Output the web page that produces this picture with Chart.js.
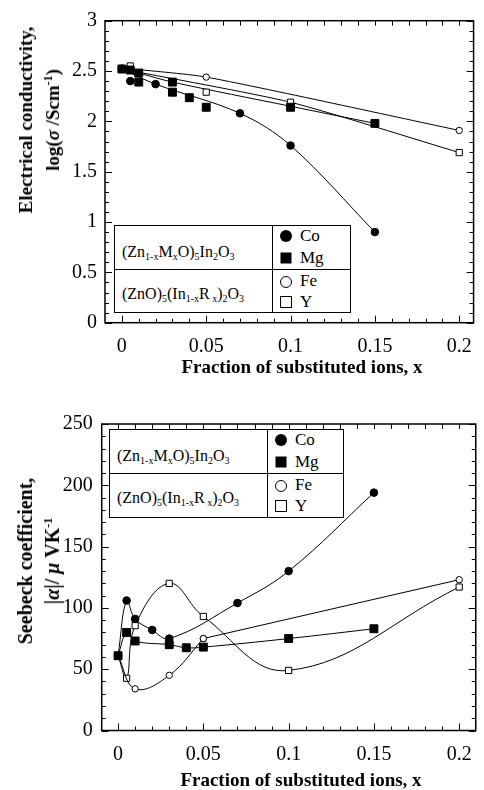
<!DOCTYPE html>
<html>
<head>
<meta charset="utf-8">
<script src="https://cdn.jsdelivr.net/npm/chart.js@4.4.1/dist/chart.umd.min.js"></script>
<style>
  html, body { margin: 0; padding: 0; background: #fff; }
  body { width: 484px; height: 790px; position: relative; overflow: hidden;
         font-family: "Liberation Serif", "Times New Roman", serif; color: #000; }
  .pane { position: absolute; left: 0; width: 484px; }
  #paneTop { top: 0; height: 400px; }
  #paneBot { top: 400px; height: 390px; }
  .ytitle { position: absolute; transform: translate(-50%, -50%) rotate(-90deg);
            white-space: nowrap; font-weight: bold; font-size: 19px; line-height: 27px; text-align: center; }
  .xtitle { position: absolute; transform: translate(-50%, -50%); white-space: nowrap;
            font-weight: bold; font-size: 19px; }
  .ytitle sup { font-size: 12px; vertical-align: 7px; line-height: 0; }
  .legend { position: absolute; border: 1.5px solid #000; background: #fff; box-sizing: border-box; }
  .legend .vline { position: absolute; top: 0; bottom: 0; border-left: 1.5px solid #000; }
  .legend .hline { position: absolute; left: 0; right: 0; border-top: 1.5px solid #000; }
  .legend .formula { position: absolute; font-size: 16px; white-space: nowrap; transform: translateY(-50%); }
  .legend .formula sub { font-size: 10px; vertical-align: -3px; line-height: 0; }
  .legend .item { position: absolute; font-size: 17px; white-space: nowrap; transform: translateY(-50%); }
  .mk { position: absolute; transform: translate(-50%, -50%); box-sizing: border-box; }
  .mk.fc { width: 12px; height: 12px; border-radius: 50%; background: #000; }
  .mk.fs { width: 11px; height: 11px; background: #000; }
  .mk.oc { width: 12px; height: 12px; border-radius: 50%; border: 1.2px solid #000; background: #fff; }
  .mk.os { width: 12px; height: 12px; border: 1.2px solid #000; background: #fff; }
</style>
</head>
<body>
<div class="pane" id="paneTop"><canvas id="chartTop"></canvas></div>
<div class="pane" id="paneBot"><canvas id="chartBot"></canvas></div>

<div class="ytitle" style="left:39px; top:120px;">Electrical conductivity,<br>log(<i>σ</i> /Scm<sup>-1</sup>)</div>
<div class="xtitle" style="left:302px; top:367px;">Fraction of substituted ions, x</div>
<div class="ytitle" style="left:39px; top:561px; font-size:20px;">Seebeck coefficient,<br>|<i>α</i>|/ <i>μ</i> VK<sup>-1</sup></div>
<div class="xtitle" style="left:301px; top:780px;">Fraction of substituted ions, x</div>

<script>
'use strict';

// ========================
// Data: conductivity (top)
// ========================
const xTicks = [0, 0.05, 0.1, 0.15, 0.2];
const sigmaTicks = [0, 0.5, 1, 1.5, 2, 2.5, 3];

const sigCoX = [0, 0.005, 0.02, 0.07, 0.1, 0.15];
const sigCoY = [2.52, 2.40, 2.37, 2.08, 1.76, 0.90];
const sigMgX = [0, 0.005, 0.01, 0.01, 0.03, 0.03, 0.04, 0.05, 0.1, 0.15];
const sigMgY = [2.52, 2.51, 2.48, 2.39, 2.39, 2.29, 2.235, 2.14, 2.14, 1.98];
const sigFeX = [0, 0.05, 0.2];
const sigFeY = [2.53, 2.44, 1.91];
const sigYX = [0, 0.005, 0.05, 0.1, 0.2];
const sigYY = [2.52, 2.55, 2.29, 2.19, 1.69];

// fitted guide curves drawn through the points
const fitCoX = [0, 0.02, 0.07, 0.1, 0.15];
const fitCoY = [2.52, 2.37, 2.08, 1.76, 0.90];
const fitMgX = [0, 0.01, 0.03, 0.1, 0.15];
const fitMgY = [2.52, 2.48, 2.39, 2.15, 1.98];
const fitFeX = [0, 0.05, 0.2];
const fitFeY = [2.53, 2.44, 1.91];
const fitYX = [0, 0.1, 0.2];
const fitYY = [2.52, 2.19, 1.69];

// ========================
// Data: Seebeck (bottom)
// ========================
const seebeckTicks = [0, 50, 100, 150, 200, 250];

const sbCoX = [0, 0.005, 0.01, 0.02, 0.03, 0.07, 0.1, 0.15];
const sbCoY = [61, 106, 91, 82, 75, 104, 130, 194];
const sbMgX = [0, 0.005, 0.01, 0.03, 0.04, 0.05, 0.1, 0.15];
const sbMgY = [61, 80, 73, 70, 67.5, 68, 75, 83];
const sbFeX = [0, 0.01, 0.03, 0.05, 0.2];
const sbFeY = [61, 34, 45, 75, 123];
const sbYX = [0, 0.005, 0.01, 0.03, 0.05, 0.1, 0.2];
const sbYY = [61, 42.6, 85.5, 120, 93, 49, 117];

// ========================
// Helpers
// ========================
const pts = (xs, ys) => xs.map((x, i) => ({ x, y: ys[i] }));

const STYLE = {
  Co: { pointStyle: 'circle', fill: '#000', r: 3.8 },
  Mg: { pointStyle: 'rect', fill: '#000', r: 5.6 },
  Fe: { pointStyle: 'circle', fill: '#fff', r: 3.2 },
  Y:  { pointStyle: 'rect', fill: '#fff', r: 4.4 }
};

function markers(label, xs, ys, key) {
  const s = STYLE[key];
  return {
    label, data: pts(xs, ys), showLine: false,
    pointStyle: s.pointStyle, pointRadius: s.r, pointHoverRadius: s.r,
    pointBackgroundColor: s.fill, pointBorderColor: '#000', pointBorderWidth: 1,
    order: 1
  };
}
function curve(label, xs, ys, tension) {
  return {
    label, data: pts(xs, ys), showLine: true, pointRadius: 0,
    borderColor: '#000', borderWidth: 1, tension: tension, fill: false, order: 2
  };
}
function series(label, xs, ys, key, tension) {
  const d = markers(label, xs, ys, key);
  d.showLine = true; d.borderColor = '#000'; d.borderWidth = 1; d.tension = tension;
  return d;
}

// frame with inward ticks on all four sides
const framePlugin = {
  id: 'frame',
  afterDraw(chart, args, o) {
    const { ctx, chartArea: a, scales: { x, y } } = chart;
    ctx.save();
    ctx.strokeStyle = '#000';
    ctx.lineWidth = 1.5;
    ctx.strokeRect(a.left, a.top, a.right - a.left, a.bottom - a.top);
    ctx.lineWidth = 1;
    ctx.beginPath();
    for (let k = 0; k <= o.xCount; k++) {
      const px = Math.round(x.getPixelForValue(k * o.xStep)) + 0.5;
      const len = k % 5 === 0 ? 7 : 4;
      ctx.moveTo(px, a.bottom); ctx.lineTo(px, a.bottom - len);
      ctx.moveTo(px, a.top); ctx.lineTo(px, a.top + 5);
    }
    for (let k = 0; k <= o.yCount; k++) {
      const py = Math.round(y.getPixelForValue(k * o.yStep)) + 0.5;
      const len = k % 5 === 0 ? 7 : 4;
      ctx.moveTo(a.left, py); ctx.lineTo(a.left + len, py);
      ctx.moveTo(a.right, py); ctx.lineTo(a.right - len, py);
    }
    ctx.stroke();
    ctx.restore();
  }
};

const tickFont = { family: '"Liberation Serif", serif', size: 20 };

function axes(cfg) {
  return {
    x: {
      type: 'linear', min: cfg.xMin, max: cfg.xMax,
      grid: { display: false, drawTicks: false }, border: { display: false },
      afterBuildTicks: s => { s.ticks = xTicks.map(v => ({ value: v })); },
      afterFit: s => { s.height = cfg.xHeight; },
      ticks: { color: '#000', font: tickFont, padding: cfg.xPad, maxRotation: 0, callback: v => String(v) }
    },
    y: {
      type: 'linear', min: cfg.yMin, max: cfg.yMax,
      grid: { display: false, drawTicks: false }, border: { display: false },
      afterBuildTicks: s => { s.ticks = cfg.yTicks.map(v => ({ value: v })); },
      afterFit: s => { s.width = cfg.yWidth; },
      ticks: { color: '#000', font: tickFont, padding: cfg.yPad, callback: v => String(v) }
    }
  };
}

function makeChart(id, w, h, datasets, scales, padding, frame) {
  const cv = document.getElementById(id);
  cv.width = w; cv.height = h;
  return new Chart(cv, {
    type: 'scatter',
    data: { datasets },
    options: {
      responsive: false, animation: false, devicePixelRatio: 1,
      layout: { padding },
      plugins: { legend: { display: false }, tooltip: { enabled: false }, frame },
      scales
    },
    plugins: [framePlugin]
  });
}

// ========================
// Top chart
// ========================
makeChart('chartTop', 484, 400, [
  curve('Co fit', fitCoX, fitCoY, 0.35),
  curve('Mg fit', fitMgX, fitMgY, 0.3),
  curve('Fe fit', fitFeX, fitFeY, 0.2),
  curve('Y fit', fitYX, fitYY, 0.2),
  markers('Co', sigCoX, sigCoY, 'Co'),
  markers('Mg', sigMgX, sigMgY, 'Mg'),
  markers('Fe', sigFeX, sigFeY, 'Fe'),
  markers('Y', sigYX, sigYY, 'Y')
], axes({ xMin: -0.01, xMax: 0.2085, yMin: 0, yMax: 3, yTicks: sigmaTicks,
          xHeight: 77.3, yWidth: 105, xPad: 12, yPad: 8 }),
  { left: 0, right: 1, top: 20.7, bottom: 0 },
  { xStep: 0.01, xCount: 20, yStep: 0.1, yCount: 30 });

// ========================
// Bottom chart
// ========================
// Fe: curved through the low-x points, then a straight segment to x = 0.2
const feBend = 4;
const feCurve = series('Fe', sbFeX.slice(0, feBend), sbFeY.slice(0, feBend), 'Fe', 0.4);
const feTail = series('Fe', sbFeX.slice(feBend - 1), sbFeY.slice(feBend - 1), 'Fe', 0);

makeChart('chartBot', 484, 390, [
  series('Co', sbCoX, sbCoY, 'Co', 0.4),
  series('Mg', sbMgX, sbMgY, 'Mg', 0.4),
  feCurve,
  feTail,
  series('Y', sbYX, sbYY, 'Y', 0.4)
], axes({ xMin: -0.0096, xMax: 0.2097, yMin: 0, yMax: 250, yTicks: seebeckTicks,
          xHeight: 59.5, yWidth: 101.7, xPad: 12, yPad: 9 }),
  { left: 0, right: 3, top: 24, bottom: 0 },
  { xStep: 0.01, xCount: 20, yStep: 10, yCount: 25 });

// ========================
// Legend tables (HTML overlay)
// ========================
function legendBox(left, top, width, height, split, mid) {
  const box = document.createElement('div');
  box.className = 'legend';
  Object.assign(box.style, { left: left + 'px', top: top + 'px', width: width + 'px', height: height + 'px' });
  box.innerHTML =
    `<div class="vline" style="left:${split}px"></div>` +
    `<div class="hline" style="top:${mid}px"></div>` +
    `<div class="formula" style="left:7px; top:${mid / 2 + 4}px">(Zn<sub>1-x</sub>M<sub>x</sub>O)<sub>5</sub>In<sub>2</sub>O<sub>3</sub></div>` +
    `<div class="formula" style="left:7px; top:${mid + (height - mid) / 2 + 2}px">(ZnO)<sub>5</sub>(In<sub>1-x</sub>R<sub> x</sub>)<sub>2</sub>O<sub>3</sub></div>` +
    `<div class="mk fc" style="left:${split + 14}px; top:10px"></div><div class="item" style="left:${split + 28}px; top:10px">Co</div>` +
    `<div class="mk fs" style="left:${split + 14}px; top:32px"></div><div class="item" style="left:${split + 28}px; top:32px">Mg</div>` +
    `<div class="mk oc" style="left:${split + 14}px; top:${mid + 13}px"></div><div class="item" style="left:${split + 28}px; top:${mid + 12}px">Fe</div>` +
    `<div class="mk os" style="left:${split + 14}px; top:${mid + 33}px"></div><div class="item" style="left:${split + 28}px; top:${mid + 33}px">Y</div>`;
  document.body.appendChild(box);
}
legendBox(114, 225, 237, 88, 157, 43);
legendBox(109, 429, 235, 89, 157, 43);
</script>
</body>
</html>
